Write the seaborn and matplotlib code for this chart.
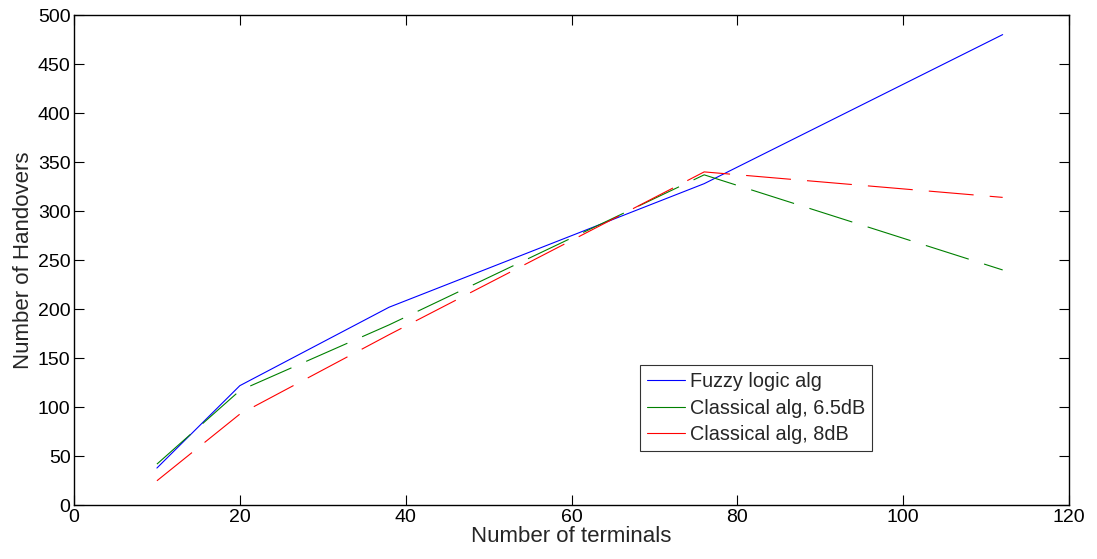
import matplotlib
matplotlib.use("Agg")
import matplotlib.pyplot as plt
from matplotlib.lines import Line2D
import seaborn as sns
import pandas as pd

terminals = [10, 20, 38, 76, 112]
fuzzy = [38, 122, 202, 328, 480]
classical_65 = [42, 117, 184, 337, 240]
classical_8 = [25, 93, 174, 340, 314]
series_names = ["Fuzzy logic alg", "Classical alg, 6.5dB", "Classical alg, 8dB"]
series_values = [fuzzy, classical_65, classical_8]
colors = ["#0000ff", "#008000", "#ff0000"]
styles = ["-", (0, (40.5, 14.5)), (0, (40.5, 14.5))]

sns.set_style("ticks")
plt.rcParams["font.family"] = ["Liberation Sans", "DejaVu Sans"]

fig = plt.figure(figsize=(10.97, 5.59), dpi=100)
ax = fig.add_axes([74 / 1097, 1 - 505.3 / 559, 995 / 1097, 490.3 / 559])

for name, vals, c, ls in zip(series_names, series_values, colors, styles):
    df = pd.DataFrame({"x": terminals, "y": vals})
    sns.lineplot(data=df, x="x", y="y", ax=ax, color=c, linestyle=ls,
                 linewidth=0.8, legend=False)

ax.set_xlim(0, 120)
ax.set_ylim(0, 500)
ax.set_xticks(range(0, 121, 20))
ax.set_yticks(range(0, 501, 50))
ax.tick_params(direction="in", length=7, width=0.8, labelsize=14,
               top=True, right=True, colors="black", pad=3)
ax.tick_params(axis="y", pad=2.5)
for s in ax.spines.values():
    s.set_visible(True)
    s.set_linewidth(1.0)
    s.set_color("black")

ax.set_xlabel("Number of terminals", fontsize=16, labelpad=0)
ax.set_ylabel("Number of Handovers", fontsize=16, labelpad=3)

handles = [Line2D([0], [0], color=c, linewidth=0.8, linestyle="-") for c in colors]
leg = ax.legend(handles, series_names, loc="upper left",
                bbox_to_anchor=(0.569, 0.286),
                borderaxespad=0, fontsize=14.3, frameon=True, fancybox=False,
                edgecolor="black", handlelength=1.9, handletextpad=0.25,
                labelspacing=0.38, borderpad=0.35)
leg.get_frame().set_linewidth(0.8)

fig.savefig("out.png", dpi=100, facecolor="white")
